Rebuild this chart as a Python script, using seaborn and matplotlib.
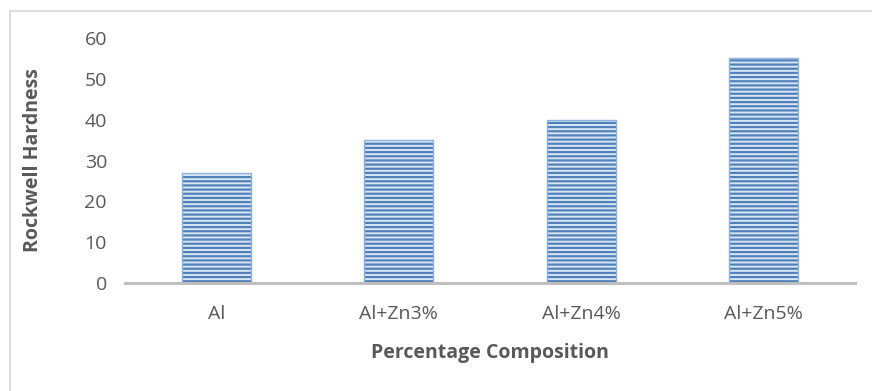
import matplotlib
matplotlib.use("Agg")
import matplotlib.pyplot as plt
from matplotlib.patches import Rectangle
from matplotlib.colors import to_rgba
import seaborn as sns
import pandas as pd

# Hardness measurements for each alloy composition
compositions = ["Al", "Al+Zn3%", "Al+Zn4%", "Al+Zn5%"]
hardness = [27, 35, 40, 55]
y_ticks = [0, 10, 20, 30, 40, 50, 60]

df = pd.DataFrame({"Composition": compositions, "Hardness": hardness})

sns.set_theme(style="white")
plt.rcParams["font.family"] = ["Open Sans", "DejaVu Sans"]
plt.rcParams["hatch.linewidth"] = 1.6

W, H = 872, 391
fig = plt.figure(figsize=(W / 100, H / 100), dpi=100)
ax = fig.add_axes([125 / W, (H - 283) / H, (855 - 125) / W, (283 - 38) / H])

sns.barplot(data=df, x="Composition", y="Hardness", ax=ax, width=0.38,
            color="#dce6f2", saturation=1)

stripe = to_rgba("#4f81bd")
for bar in ax.patches:
    bar.set_hatch("----")
    bar.set_edgecolor("#8eb0dc")
    bar.set_linewidth(1.0)
    bar._hatch_color = stripe

ax.set_xlim(-0.5, 3.5)
ax.set_ylim(0, 60)
ax.set_yticks(y_ticks)
ax.tick_params(axis="both", length=0, labelsize=14, colors="#595959")
ax.tick_params(axis="y", pad=13)
ax.tick_params(axis="x", pad=16)

for side in ["left", "right", "top"]:
    ax.spines[side].set_visible(False)
ax.spines["bottom"].set_color("#bfbfbf")
ax.spines["bottom"].set_linewidth(2.2)

ax.set_ylabel("Rockwell Hardness", fontsize=14, fontweight="bold",
              color="#595959", labelpad=30)
ax.set_xlabel("Percentage Composition", fontsize=14, fontweight="bold",
              color="#595959", labelpad=14)

# chart-area frame
fig.patches.append(Rectangle((10 / W, -0.05), 1.2, (H - 10.5) / H + 0.05,
                             transform=fig.transFigure, fill=False,
                             edgecolor="#d9d9d9", linewidth=1.3))

fig.savefig("out.png", dpi=100)
